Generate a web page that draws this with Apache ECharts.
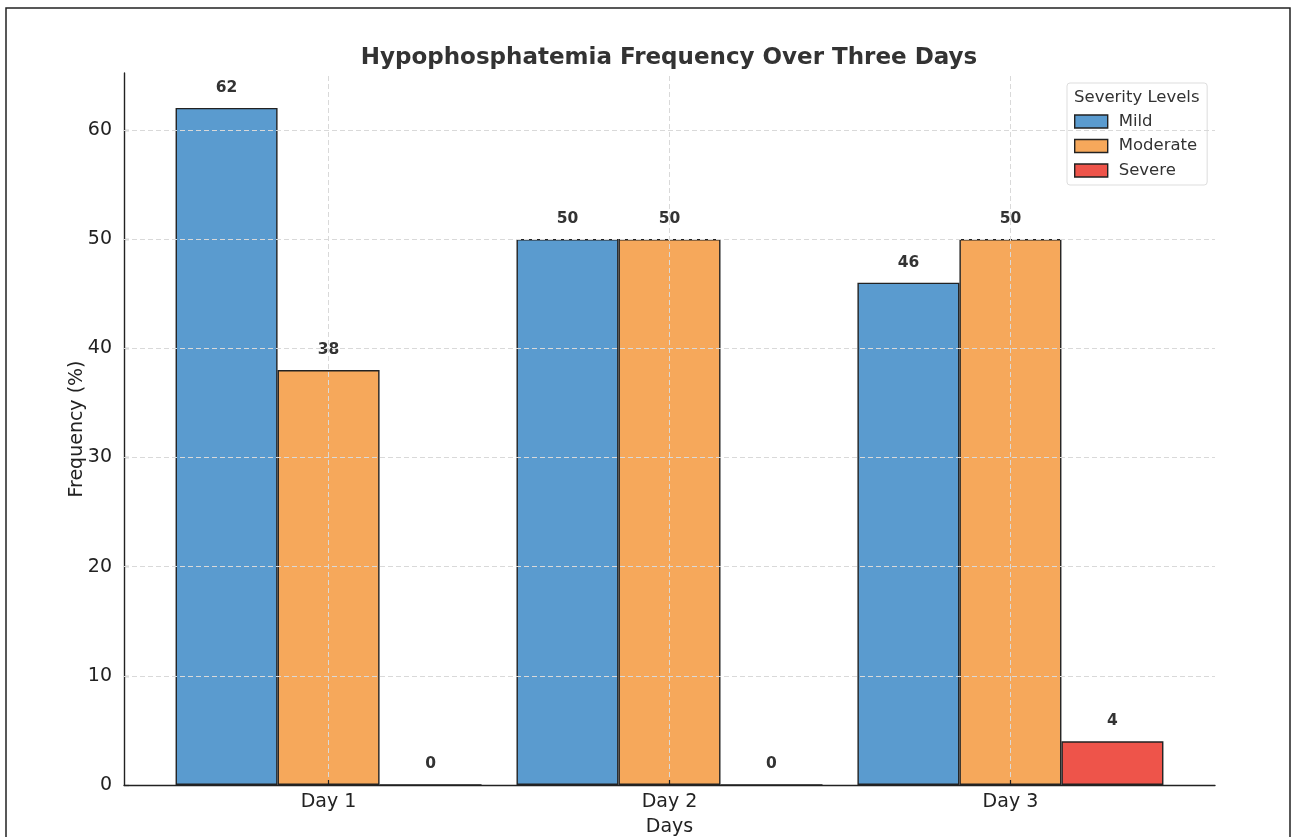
<!DOCTYPE html>
<html>
<head>
<meta charset="utf-8">
<script src="https://cdn.jsdelivr.net/npm/echarts@6/dist/echarts.min.js"></script>
<style>
html,body{margin:0;padding:0;background:#fff;overflow:hidden;}
#chart{width:1297px;height:837px;}
</style>
</head>
<body>
<div id="chart"></div>
<script>
const categories = ['Day 1', 'Day 2', 'Day 3'];
const seriesNames = ['Mild', 'Moderate', 'Severe'];
const mild = [62, 50, 46];
const moderate = [38, 50, 50];
const severe = [0, 0, 4];
const yTicks = [0, 10, 20, 30, 40, 50, 60];
const colors = ['#5A9BCF', '#F6A85B', '#EE544A'];

const FONT = 'DejaVu Sans';
const GRID = { color: '#d9d9d9', type: [5, 3], width: 1 };
const chart = echarts.init(document.getElementById('chart'));

const G = { left: 124, right: 82, top: 73, bottom: 52 };
const W = 1297 - G.left - G.right;
const unit = W / 3.2;
const catLeft = G.left + 0.6 * unit;
const catRight = 1297 - (catLeft + 2 * unit);

function mk(name, vals, color, extra) {
  const s = {
    name: name,
    type: 'bar',
    xAxisIndex: 0, yAxisIndex: 0,
    data: vals.map((v, i) => [i, v]),
    barWidth: 102,
    barGap: '0%',
    itemStyle: { color: color, borderColor: '#222', borderWidth: 1.4 },
    label: {
      show: true, position: 'top', distance: 12,
      fontFamily: FONT, fontWeight: 'bold', fontSize: 15.5, color: '#333'
    }
  };
  return Object.assign(s, extra || {});
}

const option = {
  backgroundColor: '#fff',
  animation: false,
  textStyle: { fontFamily: FONT },
  title: [{
    text: 'Hypophosphatemia Frequency Over Three Days',
    left: 664, top: 42, textAlign: 'center',
    textStyle: { fontFamily: FONT, fontWeight: 'bold', fontSize: 23, color: '#333' }
  }, {
    text: 'Severity Levels',
    left: 1069, top: 84,
    textStyle: { fontFamily: FONT, fontWeight: 'normal', fontSize: 16.5, color: '#333' }
  }],
  graphic: [{
    type: 'rect', silent: true, z: 100,
    shape: { x: 6, y: 8, width: 1284, height: 840 },
    style: { fill: 'none', stroke: '#222', lineWidth: 1.5 }
  }],
  legend: {
    orient: 'vertical',
    left: 1067, top: 83,
    padding: [30, 10, 6, 7],
    itemGap: 7.5,
    itemWidth: 33, itemHeight: 13,
    icon: 'rect',
    borderColor: '#ddd', borderWidth: 1, borderRadius: 3,
    backgroundColor: '#fff',
    textStyle: { fontFamily: FONT, fontSize: 16.5, color: '#333', padding: [0, 0, 0, 6] },
    itemStyle: { borderColor: '#222', borderWidth: 1.4 },
    data: seriesNames
  },
  grid: [
    { left: G.left, right: G.right, top: G.top, bottom: G.bottom, containLabel: false, outerBoundsMode: 'none' },
    { left: catLeft, right: catRight, top: G.top, bottom: G.bottom, containLabel: false, outerBoundsMode: 'none' }
  ],
  xAxis: [{
    gridIndex: 0,
    type: 'value',
    min: -0.6, max: 2.6, interval: 0.2,
    name: 'Days', nameLocation: 'middle', nameGap: 33, nameMoveOverlap: false,
    nameTextStyle: { fontFamily: FONT, fontSize: 19, color: '#222' },
    axisLine: { show: true, onZero: false, lineStyle: { color: '#222', width: 1.4 } },
    axisTick: { show: false },
    splitLine: { show: false },
    axisLabel: { show: false }
  }, {
    gridIndex: 1,
    type: 'category',
    data: categories,
    boundaryGap: false,
    z: 5,
    axisLine: { show: false, onZero: false },
    axisTick: { show: true, inside: true, length: 5, lineStyle: { color: '#222', width: 1.2 } },
    splitLine: { show: false },
    axisLabel: { fontFamily: FONT, fontSize: 19, color: '#222', margin: 8, interval: 0 }
  }],
  yAxis: [{
    gridIndex: 0,
    type: 'value',
    min: 0, max: 65.2, interval: 10,
    name: 'Frequency (%)', nameLocation: 'middle', nameGap: 37, nameMoveOverlap: false,
    nameTextStyle: { fontFamily: FONT, fontSize: 19, color: '#222' },
    axisLine: { show: true, onZero: false, lineStyle: { color: '#222', width: 1.4 } },
    axisTick: { show: true, inside: true, length: 5, lineStyle: { color: '#222', width: 1.2 } },
    axisLabel: {
      fontFamily: FONT, fontSize: 19, color: '#222', margin: 12,
      showMaxLabel: false,
      formatter: function (v) { return yTicks.indexOf(v) >= 0 ? String(v) : ''; }
    },
    splitLine: { show: false }
  }, {
    gridIndex: 1,
    type: 'value', min: 0, max: 65.2,
    show: false
  }],
  series: [
    mk(seriesNames[0], mild, colors[0]),
    mk(seriesNames[1], moderate, colors[1], {
      markLine: {
        silent: true, symbol: 'none', label: { show: false },
        lineStyle: GRID,
        data: categories.map((c, i) => ({ xAxis: i }))
          .concat(yTicks.filter(t => t > 0).map(t => ({ yAxis: t })))
      }
    }),
    mk(seriesNames[2], severe, colors[2])
  ]
};
chart.setOption(option);
</script>
</body>
</html>
